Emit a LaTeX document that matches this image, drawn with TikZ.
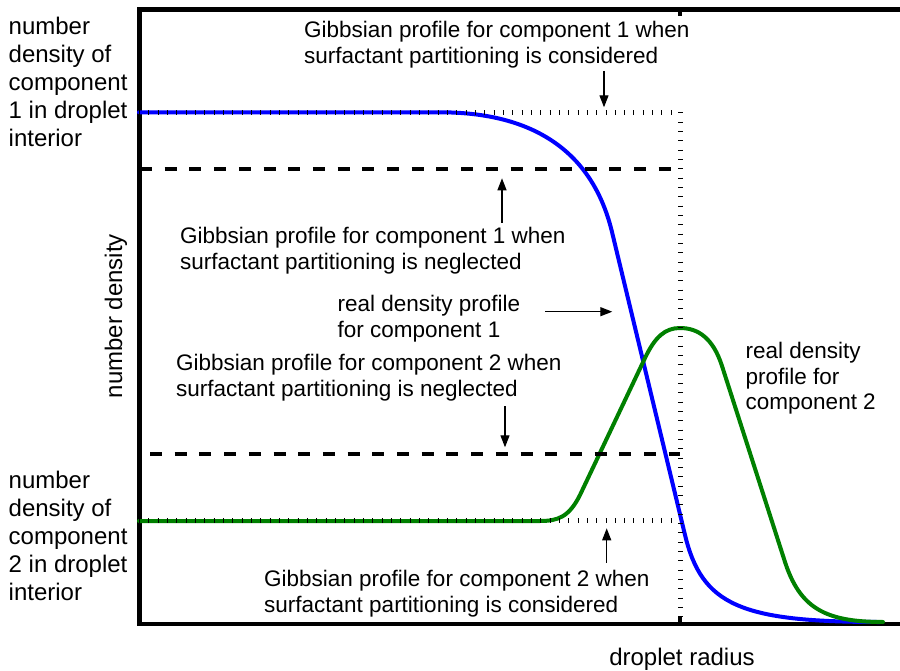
\documentclass[tikz,border=0pt]{standalone}
\usepackage{fontspec}
\setmainfont{Liberation Sans}
\usetikzlibrary{arrows.meta}
\definecolor{profblue}{RGB}{0,0,255}
\definecolor{profgreen}{RGB}{0,128,0}
\tikzset{
  axisline/.style={line width=4.5pt, line join=miter},
  realprof/.style={line width=4pt, line join=round, line cap=round},
  gibbsneg/.style={line width=4pt, dash pattern=on 12pt off 12.7pt},
  gibbscon/.style={line width=5pt, dash pattern=on 1pt off 8.33pt},
  axistick/.style={line width=4pt},
  pointer/.style={line width=1.2pt, -{Triangle[length=12pt,width=9pt]}},
  note/.style={font=\fontsize{22.5}{26}\selectfont, align=left, inner sep=0pt, anchor=north west},
  sidelab/.style={font=\fontsize{24}{28}\selectfont, align=left, inner sep=0pt, anchor=north west},
  axislab/.style={font=\fontsize{24}{28}\selectfont, inner sep=0pt, anchor=base},
}
\begin{document}
\begin{tikzpicture}[x=1pt,y=-1pt]
\useasboundingbox (0,0) rectangle (900,671);

% axes frame
\coordinate (tr) at (900,9.5);
\coordinate (tl) at (139.5,9.5);
\coordinate (bl) at (139.5,624);
\coordinate (br) at (900,624);
\draw[axisline] (tr) -- (tl) -- (bl) -- (br);
\coordinate (ttick0) at (680,9.5);
\coordinate (ttick1) at (680,16.5);
\coordinate (btick0) at (680,624);
\coordinate (btick1) at (680,616);
\draw[axistick] (ttick0) -- (ttick1);
\draw[axistick] (btick0) -- (btick1);

% real density profile, component 1
\draw[realprof, profblue]
  (139,112.3) -- (440,112.3)
  .. controls (520,112.3) and (590,141) .. (612,232)
  -- (685,535)
  .. controls (702,605) and (740,622) .. (880,622);

% real density profile, component 2
\draw[realprof, profgreen]
  (139,521) -- (540,521)
  .. controls (558,521) and (569,517) .. (580,495)
  -- (645,358)
  .. controls (655,337) and (665,328) .. (680,328)
  .. controls (698,328) and (713,338) .. (722,366)
  -- (785,562)
  .. controls (800,608) and (825,622) .. (883,622);

% Gibbsian profiles, surfactant partitioning neglected
\coordinate (n1a) at (140,169.5);
\coordinate (n1b) at (672,169.5);
\coordinate (n2a) at (150,454.3);
\coordinate (n2b) at (680,454.3);
\draw[gibbsneg] (n1a) -- (n1b);
\draw[gibbsneg] (n2a) -- (n2b);

% Gibbsian profiles, surfactant partitioning considered
\coordinate (c1a) at (139,112.3);
\coordinate (c1b) at (680,112.3);
\coordinate (c1c) at (680,624);
\coordinate (c2a) at (139,520.5);
\coordinate (c2b) at (680,520.5);
\draw[gibbscon] (c1a) -- (c1b) -- (c1c);
\draw[gibbscon] (c2a) -- (c2b);

% labels
\node[sidelab] (lab1) at (8.5,16.5) {number\\density of\\component\\1 in droplet\\interior};
\node[sidelab] (lab2) at (8.5,471) {number\\density of\\component\\2 in droplet\\interior};
\node[axislab, rotate=90] (ylab) at (122,316) {number density};
\node[axislab] (xlab) at (682,665) {droplet radius};

\node[note] (t1) at (304,21) {Gibbsian profile for component 1 when\\surfactant partitioning is considered};
\node[note] (t2) at (180,227) {Gibbsian profile for component 1 when\\surfactant partitioning is neglected};
\node[note] (t3) at (337.5,295) {real density profile\\for component 1};
\node[note] (t4) at (176,354) {Gibbsian profile for component 2 when\\surfactant partitioning is neglected};
\node[note] (t5) at (264,570) {Gibbsian profile for component 2 when\\surfactant partitioning is considered};
\node[note, font=\fontsize{22.5}{25.5}\selectfont] (t6) at (745.5,342) {real density\\profile for\\component 2};

% pointers
\coordinate (p1a) at (604,71);   \coordinate (p1b) at (604,107.3);
\coordinate (p2a) at (502,222.7); \coordinate (p2b) at (502,178.3);
\coordinate (p3a) at (545,311.7); \coordinate (p3b) at (612.3,311.7);
\coordinate (p4a) at (505,406);  \coordinate (p4b) at (505,447.3);
\coordinate (p5a) at (606.7,562.7); \coordinate (p5b) at (606.7,528.3);
\draw[pointer] (p1a) -- (p1b);
\draw[pointer] (p2a) -- (p2b);
\draw[pointer] (p3a) -- (p3b);
\draw[pointer] (p4a) -- (p4b);
\draw[pointer] (p5a) -- (p5b);
\end{tikzpicture}
\end{document}
